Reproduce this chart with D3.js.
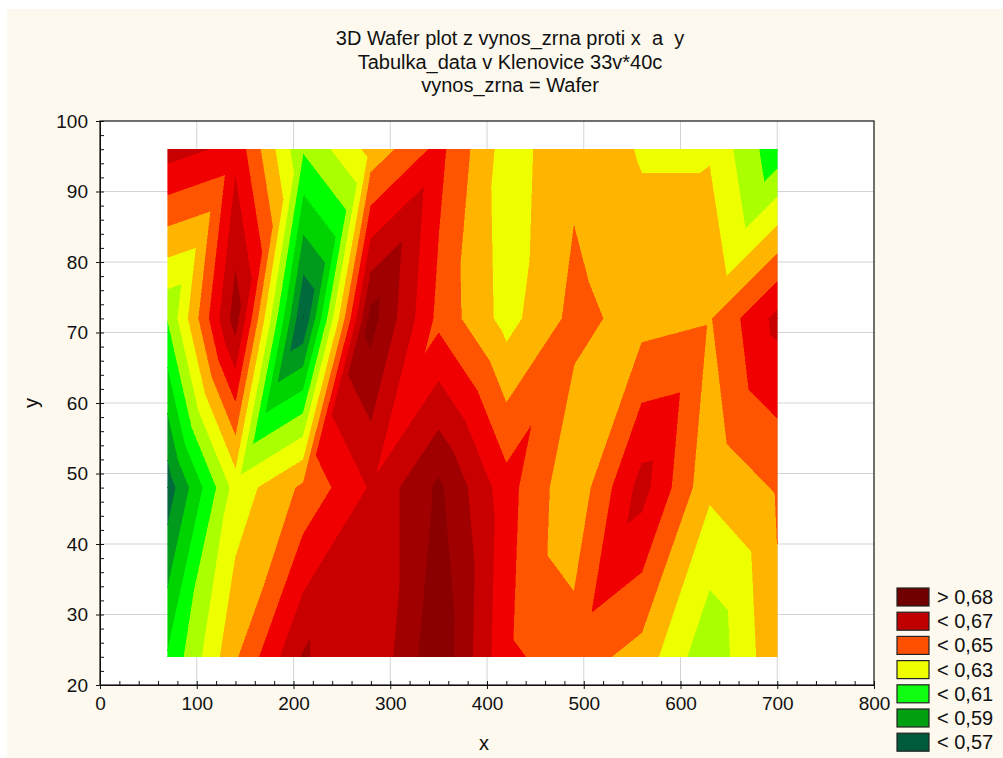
<!DOCTYPE html>
<html>
<head>
<meta charset="utf-8">
<script src="https://cdn.jsdelivr.net/npm/d3@7"></script>
<style>
body { margin: 0; background: #ffffff; }
text { font-family: "Liberation Sans", Arial, sans-serif; fill: #111; }
</style>
</head>
<body>
<svg id="chart" width="1003" height="758"></svg>
<script>
// grid of the wafer: x positions, y positions
const xVals = [70, 140, 210, 280, 350, 420, 490, 560, 630, 700];
const yVals = [24, 48, 72, 96];
// vynos_zrna per row of y
const vynos24 = [0.601, 0.6385, 0.671, 0.661, 0.688, 0.652, 0.645, 0.636, 0.612, 0.638];
const vynos48 = [0.574, 0.624, 0.642, 0.661, 0.682, 0.654, 0.632, 0.664, 0.632, 0.641];
const vynos72 = [0.6105, 0.675, 0.569, 0.684, 0.647, 0.626, 0.643, 0.636, 0.639, 0.663];
const vynos96 = [0.6646, 0.657, 0.611, 0.633, 0.653, 0.625, 0.6375, 0.629, 0.629, 0.603];
const rows = [vynos24, vynos48, vynos72, vynos96];

// contour levels and band colours (low -> high)
const levels = [0.57, 0.58, 0.59, 0.60, 0.61, 0.62, 0.63, 0.64, 0.65, 0.66, 0.67, 0.68];
const bandColors = ["#005040", "#006a3c", "#009a1c", "#00d400", "#00ff00", "#aaff00", "#eeff00",
                    "#ffb400", "#ff5500", "#f00000", "#c80000", "#a00000", "#8a0000"];

const legendLabels = ["> 0,68", "< 0,67", "< 0,65", "< 0,63", "< 0,61", "< 0,59", "< 0,57"];
const legendColors = ["#700000", "#c00000", "#ff5000", "#f0ff00", "#10ff10", "#00a010", "#005a3c"];

const xTicks = [0, 100, 200, 300, 400, 500, 600, 700, 800];
const yTicks = [20, 30, 40, 50, 60, 70, 80, 90, 100];

const svg = d3.select("#chart");

// cream panel
svg.append("rect").attr("x", 7).attr("y", 9).attr("width", 996).attr("height", 749).style("fill", "#fdf9ee");

const plotL = 100, plotR = 874, plotT = 121, plotB = 685;
const x = d3.scaleLinear().domain([0, 800]).range([plotL, plotR]);
const y = d3.scaleLinear().domain([20, 100]).range([plotB, plotT]);

svg.append("rect").attr("x", plotL).attr("y", plotT).attr("width", plotR - plotL).attr("height", plotB - plotT)
    .style("fill", "#ffffff");

// grid lines
svg.append("g").selectAll("line").data(xTicks.slice(1, -1)).join("line")
    .attr("x1", d => x(d)).attr("x2", d => x(d)).attr("y1", plotT).attr("y2", plotB)
    .style("stroke", "#d4d4d4");
svg.append("g").selectAll("line").data(yTicks.slice(1, -1)).join("line")
    .attr("y1", d => y(d)).attr("y2", d => y(d)).attr("x1", plotL).attr("x2", plotR)
    .style("stroke", "#d4d4d4");

// clip a polygon [x,y,v] to the part where f >= 0
function clip(poly, f) {
    let out = [];
    for (let i = 0; i < poly.length; i++) {
        let a = poly[i], b = poly[(i + 1) % poly.length];
        let fa = f(a), fb = f(b);
        if (fa >= 0) out.push(a);
        if ((fa >= 0) != (fb >= 0)) {
            let t = fa / (fa - fb);
            out.push([a[0] + (b[0] - a[0]) * t, a[1] + (b[1] - a[1]) * t, a[2] + (b[2] - a[2]) * t]);
        }
    }
    return out;
}

// triangles of the grid, diagonal from lower left to upper right
let triangles = [];
for (let j = 0; j < yVals.length - 1; j++) {
    for (let i = 0; i < xVals.length - 1; i++) {
        let p00 = [xVals[i], yVals[j], rows[j][i]];
        let p10 = [xVals[i + 1], yVals[j], rows[j][i + 1]];
        let p01 = [xVals[i], yVals[j + 1], rows[j + 1][i]];
        let p11 = [xVals[i + 1], yVals[j + 1], rows[j + 1][i + 1]];
        triangles.push([p00, p10, p11]);
        triangles.push([p00, p11, p01]);
    }
}

const line = d3.line().x(d => x(d[0])).y(d => y(d[1]));
const mapG = svg.append("g").attr("shape-rendering", "crispEdges");
for (let k = 0; k < bandColors.length; k++) {
    let lo = k == 0 ? -Infinity : levels[k - 1];
    let hi = k == levels.length ? Infinity : levels[k];
    for (let tri of triangles) {
        let poly = clip(tri, p => p[2] - lo);
        if (poly.length < 3) continue;
        poly = clip(poly, p => hi - p[2]);
        if (poly.length < 3) continue;
        mapG.append("path")
            .attr("d", line(poly) + "Z")
            .style("fill", bandColors[k])
            .style("stroke", bandColors[k])
            .style("stroke-width", 0.6);
    }
}

// axes
svg.append("g").attr("transform", "translate(0," + plotB + ")")
    .call(d3.axisBottom(x).tickValues(xTicks).tickSize(4).tickPadding(8));
svg.append("g").attr("transform", "translate(" + plotL + ",0)")
    .call(d3.axisLeft(y).tickValues(yTicks).tickSize(4).tickPadding(8));
// minor ticks inside
svg.append("g").attr("transform", "translate(0," + plotB + ")")
    .call(d3.axisTop(x).tickValues(d3.range(0, 801, 20)).tickSize(4).tickFormat(""))
    .select(".domain").remove();
svg.append("g").attr("transform", "translate(" + plotL + ",0)")
    .call(d3.axisRight(y).tickValues(d3.range(20, 101, 2)).tickSize(4).tickFormat(""))
    .select(".domain").remove();

svg.selectAll(".tick text").style("font-size", "19px").style("fill", "#111");
svg.selectAll(".tick line, .domain").style("stroke", "#111");

// frame
svg.append("rect").attr("x", plotL).attr("y", plotT).attr("width", plotR - plotL).attr("height", plotB - plotT)
    .style("fill", "none").style("stroke", "#111").style("stroke-width", 1.2);

// titles
const titles = ["3D Wafer plot z vynos_zrna proti x  a  y", "Tabulka_data v Klenovice 33v*40c", "vynos_zrna = Wafer"];
svg.append("g").selectAll("text").data(titles).join("text")
    .attr("x", 510).attr("y", (d, i) => 45 + i * 23.5)
    .attr("text-anchor", "middle")
    .style("font-size", "20px")
    .style("white-space", "pre")
    .text(d => d);

svg.append("text").attr("x", 484).attr("y", 750).attr("text-anchor", "middle").style("font-size", "20px").text("x");
svg.append("text").attr("transform", "translate(38,403)rotate(-90)").attr("text-anchor", "middle")
    .style("font-size", "20px").text("y");

// legend
const legend = svg.append("g");
legendLabels.forEach(function (lab, i) {
    legend.append("rect")
        .attr("x", 897).attr("y", 588 + i * 24.2)
        .attr("width", 32).attr("height", 18)
        .style("fill", legendColors[i]).style("stroke", "#222").style("stroke-width", 1.2);
    legend.append("text")
        .attr("x", 937).attr("y", 604 + i * 24.2)
        .style("font-size", "20px")
        .text(lab);
});
</script>
</body>
</html>
